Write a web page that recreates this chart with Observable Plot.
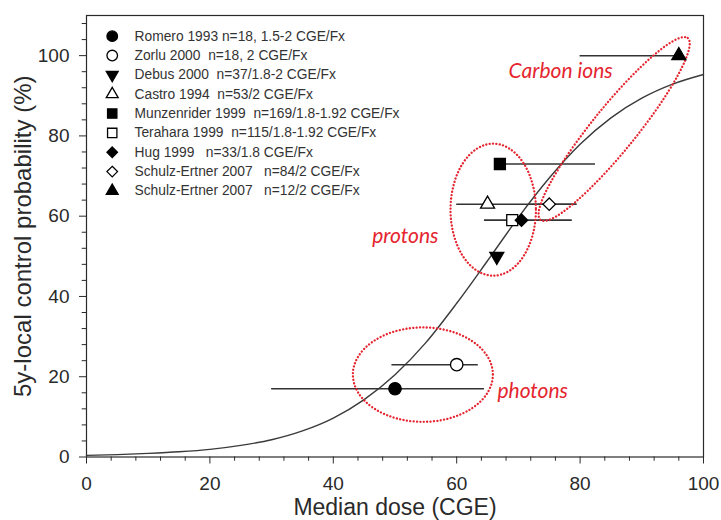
<!DOCTYPE html>
<html><head><meta charset="utf-8">
<script src="https://cdn.jsdelivr.net/npm/d3@7"></script>
<script src="https://cdn.jsdelivr.net/npm/@observablehq/plot@0.6"></script>
<style>
body{margin:0;background:#fff}
#chart{width:721px;height:520px}
#chart svg text{white-space:pre}
</style>
</head><body><div id="chart"></div>
<script>
// ---- data ----
const studies = [
  "Romero 1993 n=18, 1.5-2 CGE/Fx",
  "Zorlu 2000  n=18, 2 CGE/Fx",
  "Debus 2000  n=37/1.8-2 CGE/Fx",
  "Castro 1994  n=53/2 CGE/Fx",
  "Munzenrider 1999  n=169/1.8-1.92 CGE/Fx",
  "Terahara 1999  n=115/1.8-1.92 CGE/Fx",
  "Hug 1999   n=33/1.8 CGE/Fx",
  "Schulz-Ertner 2007   n=84/2 CGE/Fx",
  "Schulz-Ertner 2007   n=12/2 CGE/Fx"
];
const shapes = ["circle","circle","triangleDown","triangle","square","square","diamond","diamond","triangle"];
const filled = [true,false,true,false,true,false,true,false,true];
const medianDose = [50, 60, 66.5, 65, 67, 69, 70.5, 75, 96];
const localControl = [17, 23, 50, 63, 73, 59, 59, 63, 100];
const doseLow  = [30, 49.5, null, 60, 67, 64.5, 64.5, 72, 80];
const doseHigh = [64.5, 63.5, null, 79.5, 82.5, 78.7, 78.7, 79.5, 96];

const curveDose = [0,5,10,15,20,25,30,35,40,45,50,55,60,65,70,75,80,85,90,95,100];
const curveControl = [0.4,0.6,0.9,1.3,1.9,2.9,4.3,6.5,9.7,14.3,20.5,28.5,38.3,48.9,59.7,69.5,77.9,84.5,89.4,92.9,95.3];

const xTicks = [0,20,40,60,80,100];
const yTicks = [0,20,40,60,80,100];

const groupLabels = ["Carbon ions","protons","photons"];
const groupLabelDose = [68.4, 46.3, 66.6];
const groupLabelControl = [96.0, 55.0, 16.5];
// ellipses: centre (data), semi-axes (px), rotation (deg)
const ellipseDose = [85.6, 66.0, 54.6];
const ellipseControl = [81.6, 61.5, 20.4];
const ellipseRx = [117, 42.7, 70];
const ellipseRy = [22, 66, 47.2];
const ellipseAngle = [-51, 0, 0];

const xTitle = "Median dose (CGE)";
const yTitle = "5y-local control probability (%)";

// ---- build ----
const sqrt3 = Math.sqrt(3);
const triangleDown = {draw(ctx, size){
  const y = -Math.sqrt(size / (sqrt3 * 3));
  ctx.moveTo(0, -y * 2); ctx.lineTo(-sqrt3 * y, y); ctx.lineTo(sqrt3 * y, y); ctx.closePath();
}};
const symbolOf = s => s === "triangleDown" ? triangleDown : s === "diamond" ? "diamond2" : s;
const radiusOf = s => (s.startsWith("triangle") ? 5.2 : s === "diamond" ? 5.6 : 6.2);

const rows = studies.map((name,i)=>({name, shape: shapes[i], filled: filled[i], x: medianDose[i], y: localControl[i], lo: doseLow[i], hi: doseHigh[i], i}));
const curve = curveDose.map((d,i)=>({x:d, y:curveControl[i]}));
const legendX = 4.17, legendTextX = 7.78;
const legendY = i => 104.85 - i * 4.82;

const red = "#e5252f";
const ink = "#2a2a2a";

const ellipseMark = (index, scales) => {
  const g = d3.create("svg:g").attr("fill","none").attr("stroke", red)
    .attr("stroke-width", 2.3).attr("stroke-dasharray","0.1 3.3").attr("stroke-linecap","round");
  ellipseDose.forEach((d,i)=>{
    const cx = scales.x(d), cy = scales.y(ellipseControl[i]);
    g.append("ellipse").attr("cx",cx).attr("cy",cy).attr("rx",ellipseRx[i]).attr("ry",ellipseRy[i])
      .attr("transform",`rotate(${ellipseAngle[i]} ${cx} ${cy})`);
  });
  return g.node();
};

const marks = [
  Plot.frame({stroke: ink, strokeWidth: 1.2}),
  Plot.ruleX(d3.range(0,101,4).filter(v=>v%20), {x: d=>d, y1: 0, y2: -1.05, stroke: ink}),
  Plot.ruleY(d3.range(0,111,4).filter(v=>v%20), {y: d=>d, x1: 0, x2: -0.7, stroke: ink}),
  Plot.line(curve, {x:"x", y:"y", curve:"monotone-x", stroke:"#3a3a3a", strokeWidth:1.4}),
  Plot.ruleY(rows.filter(r=>r.lo!=null), {y:"y", x1:"lo", x2:"hi", stroke:"#333", strokeWidth:1.5}),
  ellipseMark,
  ...rows.map(r => Plot.dot([r], {x:"x", y:"y", symbol: symbolOf(r.shape), r: radiusOf(r.shape),
      fill: r.filled ? "#000" : "#fff", stroke:"#000", strokeWidth: 1.3})),
  ...rows.map(r => Plot.dot([r], {x: ()=>legendX, y: d=>legendY(d.i), symbol: symbolOf(r.shape), r: radiusOf(r.shape)*0.85,
      fill: r.filled ? "#000" : "#fff", stroke:"#000", strokeWidth: 1.3})),
  Plot.text(rows, {x: ()=>legendTextX, y: d=>legendY(d.i), text:"name", textAnchor:"start",
      fontSize: 13.8, fill: "#333", fontFamily: d => d.name.startsWith("Schulz") ? "Lato, sans-serif" : "'Liberation Sans', Arial, sans-serif"}),
  Plot.text(groupLabels, {x: (d,i)=>groupLabelDose[i], y: (d,i)=>groupLabelControl[i], text: d=>d, textAnchor:"start",
      fill: red, fontSize: 21, fontStyle:"italic", fontFamily:"Lato, sans-serif"}),
  Plot.text([xTitle], {frameAnchor:"bottom", dy: 51, lineAnchor:"middle", textAnchor:"middle", text: d=>d, fontSize: 23, fill: ink}),
  Plot.text([yTitle], {frameAnchor:"left", dx: -63, rotate: -90, lineAnchor:"middle", textAnchor:"middle", text: d=>d, fontSize: 24, fill: ink})
];

const chart = Plot.plot({
  width: 721, height: 520,
  marginLeft: 86, marginRight: 18, marginTop: 15, marginBottom: 63.5,
  style: {fontFamily: "'Liberation Sans', Arial, sans-serif", fontSize: "19px", color: ink, background: "#fff", overflow: "visible"},
  x: {domain:[0,100], ticks: xTicks, tickSize: 7, tickPadding: 12, label: null},
  y: {domain:[0,110], ticks: yTicks, tickSize: 7, tickPadding: 10, label: null},
  marks
});
document.getElementById("chart").appendChild(chart);
</script>
</body></html>
